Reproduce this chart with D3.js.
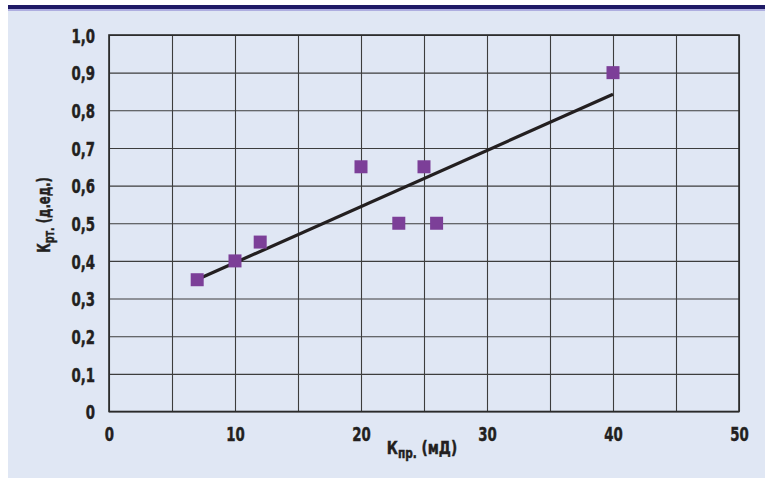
<!DOCTYPE html>
<html><head><meta charset="utf-8">
<script src="https://cdn.jsdelivr.net/npm/d3@7"></script>
<style>
body{margin:0;background:#fff}
svg text{font-family:"Liberation Sans Narrow","DejaVu Sans Condensed","Roboto Condensed",sans-serif;font-weight:bold;fill:#231f20;stroke:#231f20;stroke-width:0.45px}
</style>
</head><body>
<svg id="c" width="765" height="479"></svg>
<script>
// Data
const permeability = [7, 10, 12, 20, 23, 25, 26, 40];       // Кпр., мД
const recovery     = [0.35, 0.40, 0.45, 0.65, 0.50, 0.65, 0.50, 0.90]; // Крт., д.ед.
const xTickValues  = [0, 10, 20, 30, 40, 50];
const xGridValues  = [0, 5, 10, 15, 20, 25, 30, 35, 40, 45, 50];
const yTickValues  = [0, 0.1, 0.2, 0.3, 0.4, 0.5, 0.6, 0.7, 0.8, 0.9, 1.0];
const yTickLabels  = ["0", "0,1", "0,2", "0,3", "0,4", "0,5", "0,6", "0,7", "0,8", "0,9", "1,0"];

const svg = d3.select("#c");
const L = 109, R = 739, T = 35, B = 411.5;
const SX = 0.74; // horizontal condensing of tick labels

// background panel and header band
svg.append("rect").attr("x", 8).attr("y", 10).attr("width", 757).attr("height", 468).attr("fill", "#e0e7f4");
svg.append("rect").attr("x", 8).attr("y", 5).attr("width", 757).attr("height", 4).attr("fill", "#1f1a66");
svg.append("rect").attr("x", 8).attr("y", 9).attr("width", 757).attr("height", 2).attr("fill", "#aeaee0");

const x = d3.scaleLinear().domain([0, 50]).range([L, R]);
const y = d3.scaleLinear().domain([0, 1]).range([B, T]);

// gridlines
const gx = svg.append("g").attr("transform", `translate(0,${B})`)
  .call(d3.axisBottom(x).tickValues(xGridValues).tickSize(-(B - T)).tickFormat(""));
const gy = svg.append("g").attr("transform", `translate(${L},0)`)
  .call(d3.axisLeft(y).tickValues(yTickValues).tickSize(-(R - L)).tickFormat(""));
[gx, gy].forEach(g => {
  g.select(".domain").remove();
  g.selectAll("line").attr("stroke", "#3d3d3d").attr("stroke-width", 1.1);
});

// frame
svg.append("rect").attr("x", L).attr("y", T).attr("width", R - L).attr("height", B - T)
  .attr("fill", "none").attr("stroke", "#2a2a2a").attr("stroke-width", 1.6);

// tick labels
const ax = svg.append("g").attr("transform", `translate(0,${B})`)
  .call(d3.axisBottom(x).tickValues(xTickValues).tickSize(0).tickPadding(15).tickFormat(d3.format("d")));
const ay = svg.append("g").attr("transform", `translate(${L},0)`)
  .call(d3.axisLeft(y).tickValues(yTickValues).tickSize(0).tickPadding(14).tickFormat((d, i) => yTickLabels[i]));
[ax, ay].forEach(g => {
  g.select(".domain").remove();
  g.selectAll("text").attr("font-size", 20).style("font-family", null).attr("fill", "#231f20")
    .attr("transform", `scale(${SX},1)`);
});
ay.selectAll("text").attr("dy", "0.36em").attr("x", -14 / SX);

// regression line (least squares fit of the points)
const n = permeability.length;
const mx = d3.mean(permeability), my = d3.mean(recovery);
let sxy = 0, sxx = 0;
for (let i = 0; i < n; i++) { sxy += (permeability[i] - mx) * (recovery[i] - my); sxx += (permeability[i] - mx) ** 2; }
const slope = sxy / sxx, icpt = my - slope * mx;
const xMin = d3.min(permeability), xMax = d3.max(permeability);
svg.append("line")
  .attr("x1", x(xMin)).attr("y1", y(icpt + slope * xMin))
  .attr("x2", x(xMax)).attr("y2", y(icpt + slope * xMax))
  .attr("stroke", "#231f20").attr("stroke-width", 3.2);

// points
const s = 13;
svg.append("g").selectAll("rect").data(permeability).join("rect")
  .attr("x", (d) => x(d) - s / 2)
  .attr("y", (d, i) => y(recovery[i]) - s / 2)
  .attr("width", s).attr("height", s)
  .attr("fill", "#7c3f98");

// axis titles
const xt = svg.append("text").attr("transform", "translate(422,454) scale(0.84,1)")
  .attr("text-anchor", "middle").attr("font-size", 18);
xt.append("tspan").text("К");
xt.append("tspan").attr("font-size", 14).attr("dy", 4).text("пр.");
xt.append("tspan").attr("dy", -4).text(" (мД)");

const yt = svg.append("text").attr("transform", "translate(50,215) rotate(-90) scale(0.76,1)")
  .attr("text-anchor", "middle").attr("font-size", 17);
yt.append("tspan").text("К");
yt.append("tspan").attr("font-size", 14).attr("dy", 4).text("рт.");
yt.append("tspan").attr("dy", -4).text("  (д.ед.)");
</script>
</body></html>
